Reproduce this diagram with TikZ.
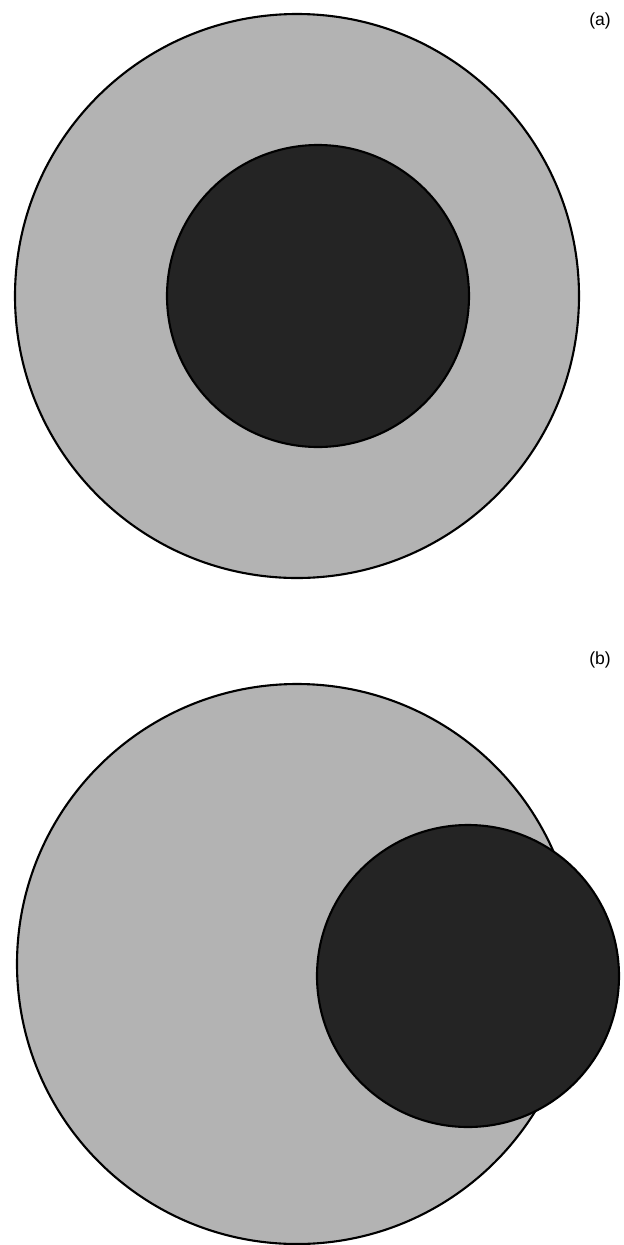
\documentclass[tikz,border=0pt]{standalone}
\usepackage{fontspec}
\setmainfont{Liberation Sans}
\definecolor{cellgray}{HTML}{B3B3B3}
\definecolor{coredark}{HTML}{242424}

\begin{document}
\begin{tikzpicture}[x=0.02cm, y=-0.02cm, line cap=round,
    outer/.style={fill=cellgray, draw=black, line width=1.2pt},
    inner/.style={fill=coredark, draw=black, line width=1.2pt},
    panel/.style={font=\fontsize{10}{12}\selectfont}]
  \useasboundingbox (0,0) rectangle (624,1245);
  % (a)
  \draw[outer] (297,296) circle[radius=282];
  \draw[inner] (318,296) circle[radius=151];
  \node[panel] (la) at (600,21) {(a)};
  % (b)
  \draw[outer] (297,964) circle[radius=280];
  \draw[inner] (468,976) circle[radius=151];
  \node[panel] (lb) at (600,660) {(b)};
\end{tikzpicture}
\end{document}
